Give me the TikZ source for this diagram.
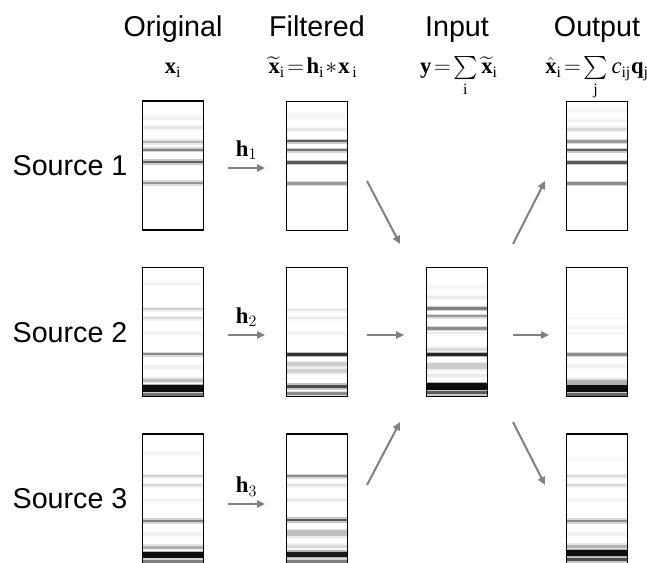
\documentclass[tikz,border=0pt]{standalone}
\usepackage{amsmath}
\usepackage{fontspec}
\setmainfont{Liberation Serif}
\setsansfont{Liberation Sans}
\usetikzlibrary{arrows.meta,calc}

\newcommand{\drawbands}[2]{%
  \begin{scope}
    \clip ($(#1.north west)+(0.7,0.7)$) rectangle ($(#1.south east)+(-0.7,-0.7)$);
    \foreach \r/\k/\w in {#2} {
      \pgfmathsetmacro\kh{\k/3}
      \draw [line width=(\w+3)*0.75pt, black!\kh] ($(#1.north west)+(0,\r)$) -- ($(#1.north east)+(0,\r)$);
    }
    \foreach \r/\k/\w in {#2} {
      \draw [line width=\w*0.75pt, black!\k] ($(#1.north west)+(0,\r)$) -- ($(#1.north east)+(0,\r)$);
    }
  \end{scope}}

\begin{document}
\begin{tikzpicture}[x=0.75pt,y=-0.75pt,
  every node/.style={inner sep=0pt, outer sep=0pt},
  box/.style={draw=black, line width=1pt, minimum width=45.75pt, minimum height=96.75pt},
  title/.style={font=\fontsize{21.5}{26}\selectfont\sffamily, anchor=base},
  formula/.style={font=\fontsize{17}{20}\selectfont, anchor=base},
  source/.style={font=\fontsize{21.5}{26}\selectfont\sffamily},
  filter/.style={font=\fontsize{17}{20}\selectfont, above=6pt},
  flow/.style={draw=black!50, line width=1.5pt, -{Triangle[length=6pt,width=5.5pt]}}]
\useasboundingbox (0,0) rectangle (647,563);
\node [title] (torig) at (173,37) {Original};
\node [title] (tfilt) at (317,37) {Filtered};
\node [title] (tinp) at (457,37) {Input};
\node [title] (tout) at (597,37) {Output};
\node [formula] (forig) at (173,74) {$\mathbf{x}_{\mathrm{i}}$};
\node [formula] (ffilt) at (313,74) {$\widetilde{\mathbf{x}}_{\mathrm{i}}\!=\!\mathbf{h}_{\mathrm{i}}\!\ast\!\mathbf{x}_{\,\mathrm{i}}$};
\node [formula] (finp) at (459,74) {$\mathbf{y}\!=\!\sum\limits_{\mathrm{i}}\widetilde{\mathbf{x}}_{\mathrm{i}}$};
\node [formula] (fout) at (597,74) {$\hat{\mathbf{x}}_{\mathrm{i}}\!=\!\sum\limits_{\mathrm{j}}\mathit{c}_{\mathrm{ij}}\mathbf{q}_{\mathrm{j}}$};
\node [source] (src1) at (70,166) {Source 1};
\node [source] (src2) at (70,333) {Source 2};
\node [source] (src3) at (70,499) {Source 3};
\node [box] (orig1) at (173,165.5) {};
\node [box] (filt1) at (317,166) {};
\node [box] (out1) at (597,166) {};
\node [box] (orig2) at (173,332) {};
\node [box] (filt2) at (317,332) {};
\node [box] (inp) at (457,332) {};
\node [box] (out2) at (597,332) {};
\node [box] (orig3) at (173,498.5) {};
\node [box] (filt3) at (317,498.5) {};
\node [box] (out3) at (597,498.5) {};
\drawbands{orig1}{17/5/4, 27/10/3, 41/28/2.5, 49/50/2, 61/62/2.5, 82/42/2.5}
\drawbands{filt1}{15/4/5, 28/10/3, 40/62/2, 49/55/2, 61/65/2.5, 82/40/2.5}
\drawbands{out1}{9/4/3, 19/5/3, 28/14/3, 40/40/2.5, 49/62/2, 61/65/2.5, 82/45/2.5}
\drawbands{orig2}{16/4/3, 42/18/2, 51/15/2, 66/6/2, 87/45/2, 100/6/4, 113/25/3, 121/95/6, 126.5/55/3}
\drawbands{filt2}{43/10/2, 51/8/2, 66/6/2, 87/80/2.5, 97/20/4, 104/18/4, 119/70/3, 126/45/3}
\drawbands{inp}{20/4/4, 30/8/3, 41/50/2.5, 49/40/2, 61/45/2.5, 66/8/2, 82/15/3, 87/85/2.5, 99/20/6, 108/8/3, 119/95/6, 125/65/3}
\drawbands{out2}{50/3/3, 60/4/3, 66/4/2, 87/45/2.5, 99/6/4, 114/30/3, 121/95/7, 127/60/3}
\drawbands{orig3}{19/4/3, 42/18/2, 51/15/2, 66/6/2, 87/50/2.5, 100/6/4, 113/30/3, 121/95/6, 127/50/3}
\drawbands{filt3}{42/45/2, 51/12/2, 66/10/2, 86/65/2.5, 99/25/6, 112/15/3, 120/90/5, 127/50/3}
\drawbands{out3}{25/3/3, 42/15/2, 51/15/2, 66/5/2, 87/45/2.5, 100/5/4, 112/30/3, 119/95/6, 125.5/70/3}
\coordinate (h1a) at (228,168);
\coordinate (h1b) at (265,168);
\coordinate (h2a) at (228,335);
\coordinate (h2b) at (265,335);
\coordinate (h3a) at (228,504);
\coordinate (h3b) at (265,504);
\coordinate (m1a) at (367,181);
\coordinate (m1b) at (400,244);
\coordinate (m2a) at (367,335);
\coordinate (m2b) at (404,335);
\coordinate (m3a) at (367,485);
\coordinate (m3b) at (400,422);
\coordinate (s1a) at (513,244);
\coordinate (s1b) at (545,181);
\coordinate (s2a) at (513,335);
\coordinate (s2b) at (549,335);
\coordinate (s3a) at (513,422);
\coordinate (s3b) at (545,485);
\draw [flow] (h1a) -- node [filter] {$\mathbf{h}_1$} (h1b);
\draw [flow] (h2a) -- node [filter] {$\mathbf{h}_2$} (h2b);
\draw [flow] (h3a) -- node [filter] {$\mathbf{h}_3$} (h3b);
\draw [flow] (m1a) -- (m1b);
\draw [flow] (m2a) -- (m2b);
\draw [flow] (m3a) -- (m3b);
\draw [flow] (s1a) -- (s1b);
\draw [flow] (s2a) -- (s2b);
\draw [flow] (s3a) -- (s3b);
\end{tikzpicture}
\end{document}
